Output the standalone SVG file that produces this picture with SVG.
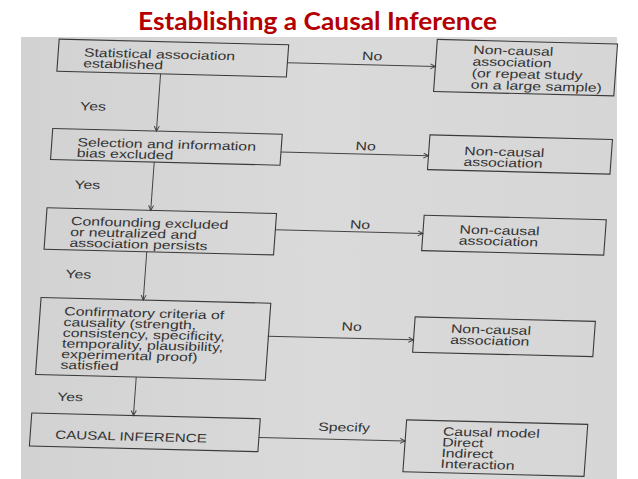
<svg xmlns="http://www.w3.org/2000/svg" width="638" height="479" viewBox="0 0 638 479">
<defs>
<marker id="arr" markerUnits="userSpaceOnUse" markerWidth="8" markerHeight="8" refX="5.5" refY="3" orient="auto" viewBox="0 0 8 8"><path d="M0.5,0.5 L5.5,3 L0.5,5.5" fill="none" stroke="#444" stroke-width="1"/></marker>
<linearGradient id="bg" x1="0" y1="0" x2="1" y2="0"><stop offset="0" stop-color="#d2d2d2"/><stop offset="0.5" stop-color="#dadada"/><stop offset="1" stop-color="#d6d6d6"/></linearGradient>
</defs>
<style>
.title{font-family:Lato,"Liberation Sans",sans-serif;font-weight:bold;font-size:24px;fill:#b40000}
.box{fill:none;stroke:#3a3a3a;stroke-width:1.1}
.t{font-family:"Liberation Sans",Arial,sans-serif;font-size:12px;fill:#333}
.lbl{font-family:"Liberation Sans",Arial,sans-serif;font-size:12px;fill:#333;text-anchor:middle}
.edge{fill:none;stroke:#444;stroke-width:1;marker-end:url(#arr)}
</style>
<rect x="0" y="0" width="638" height="479" fill="#ffffff"/>
<text class="title" x="317.5" y="29.5" text-anchor="middle" textLength="359" lengthAdjust="spacingAndGlyphs">Establishing a Causal Inference</text>
<rect x="21" y="37" width="596" height="442" fill="url(#bg)"/>
<g id="page" transform="matrix(1 0.025 -0.072 1 2.88 -4)">
  <g id="connectors">
    <line class="edge" x1="288.8" y1="59.6" x2="436.8" y2="59.6"/>
    <line class="edge" x1="288.8" y1="148.8" x2="436.3" y2="148.8"/>
    <line class="edge" x1="288.8" y1="226.6" x2="436.3" y2="226.6"/>
    <line class="edge" x1="288.8" y1="333" x2="434.6" y2="333"/>
    <line class="edge" x1="287.3" y1="434.2" x2="433.5" y2="434.2"/>
    <line class="edge" x1="163" y1="73.8" x2="163" y2="131"/>
    <line class="edge" x1="163" y1="162" x2="163" y2="210.3"/>
    <line class="edge" x1="162" y1="251.7" x2="162" y2="300"/>
    <line class="edge" x1="160.5" y1="377" x2="160.5" y2="415.5"/>
    <text class="lbl" transform="translate(373,55) scale(1.32 1)">No</text>
    <text class="lbl" transform="translate(373,145) scale(1.32 1)">No</text>
    <text class="lbl" transform="translate(373,223.5) scale(1.32 1)">No</text>
    <text class="lbl" transform="translate(372,325.5) scale(1.32 1)">No</text>
    <text class="lbl" transform="translate(371.6,426) scale(1.32 1)">Specify</text>
    <text class="t" transform="translate(85,112) scale(1.32 1)">Yes</text>
    <text class="t" transform="translate(85,190.5) scale(1.32 1)">Yes</text>
    <text class="t" transform="translate(82.5,280) scale(1.32 1)">Yes</text>
    <text class="t" transform="translate(83,402.6) scale(1.32 1)">Yes</text>
  </g>
  <g id="n1">
    <rect class="box" x="59.3" y="41.6" width="229.5" height="32.2"/>
    <text class="t" transform="translate(85,58.4) scale(1.32 1)"><tspan x="0" y="0">Statistical association</tspan><tspan x="0" dy="10.8">established</tspan></text>
  </g>
  <g id="r1">
    <rect class="box" x="436.8" y="32.5" width="180.2" height="52"/>
    <text class="t" transform="translate(473.5,46) scale(1.32 1)"><tspan x="0" y="0">Non-causal</tspan><tspan x="0" dy="11.6">association</tspan><tspan x="0" dy="11.6">(or repeat study</tspan><tspan x="0" dy="11.6">on a large sample)</tspan></text>
  </g>
  <g id="n2">
    <rect class="box" x="59.3" y="131" width="229.5" height="31"/>
    <text class="t" transform="translate(85,148.1) scale(1.32 1)"><tspan x="0" y="0">Selection and information</tspan><tspan x="0" dy="10.8">bias excluded</tspan></text>
  </g>
  <g id="r2">
    <rect class="box" x="436.3" y="128" width="182.5" height="34.7"/>
    <text class="t" transform="translate(471.7,147.2) scale(1.32 1)"><tspan x="0" y="0">Non-causal</tspan><tspan x="0" dy="10.8">association</tspan></text>
  </g>
  <g id="n3">
    <rect class="box" x="59.3" y="210.3" width="229.5" height="41.4"/>
    <text class="t" transform="translate(84.2,227) scale(1.32 1)"><tspan x="0" y="0">Confounding excluded</tspan><tspan x="0" dy="10.8">or neutralized and</tspan><tspan x="0" dy="10.8">association persists</tspan></text>
  </g>
  <g id="r3">
    <rect class="box" x="436.3" y="208.3" width="182.1" height="35.4"/>
    <text class="t" transform="translate(472.7,225.6) scale(1.32 1)"><tspan x="0" y="0">Non-causal</tspan><tspan x="0" dy="11">association</tspan></text>
  </g>
  <g id="n4">
    <rect class="box" x="59.8" y="300" width="229.7" height="77"/>
    <text class="t" transform="translate(84,317.2) scale(1.32 1)"><tspan x="0" y="0">Confirmatory criteria of</tspan><tspan x="0" dy="10.7">causality (strength,</tspan><tspan x="0" dy="10.7">consistency, specificity,</tspan><tspan x="0" dy="10.7">temporality, plausibility,</tspan><tspan x="0" dy="10.7">experimental proof)</tspan><tspan x="0" dy="10.7">satisfied</tspan></text>
  </g>
  <g id="r4">
    <rect class="box" x="434.6" y="310" width="180.2" height="35.3"/>
    <text class="t" transform="translate(471.2,325) scale(1.32 1)"><tspan x="0" y="0">Non-causal</tspan><tspan x="0" dy="11">association</tspan></text>
  </g>
  <g id="n5">
    <rect class="box" x="58.8" y="415.5" width="228.5" height="33"/>
    <text class="t" transform="translate(83.9,440.7) scale(1.26 1)">CAUSAL INFERENCE</text>
  </g>
  <g id="r5">
    <rect class="box" x="433.5" y="413" width="181.1" height="52"/>
    <text class="t" transform="translate(470.6,427.7) scale(1.32 1)"><tspan x="0" y="0">Causal model</tspan><tspan x="0" dy="10.8">Direct</tspan><tspan x="0" dy="10.8">Indirect</tspan><tspan x="0" dy="10.8">Interaction</tspan></text>
  </g>
</g>
</svg>
